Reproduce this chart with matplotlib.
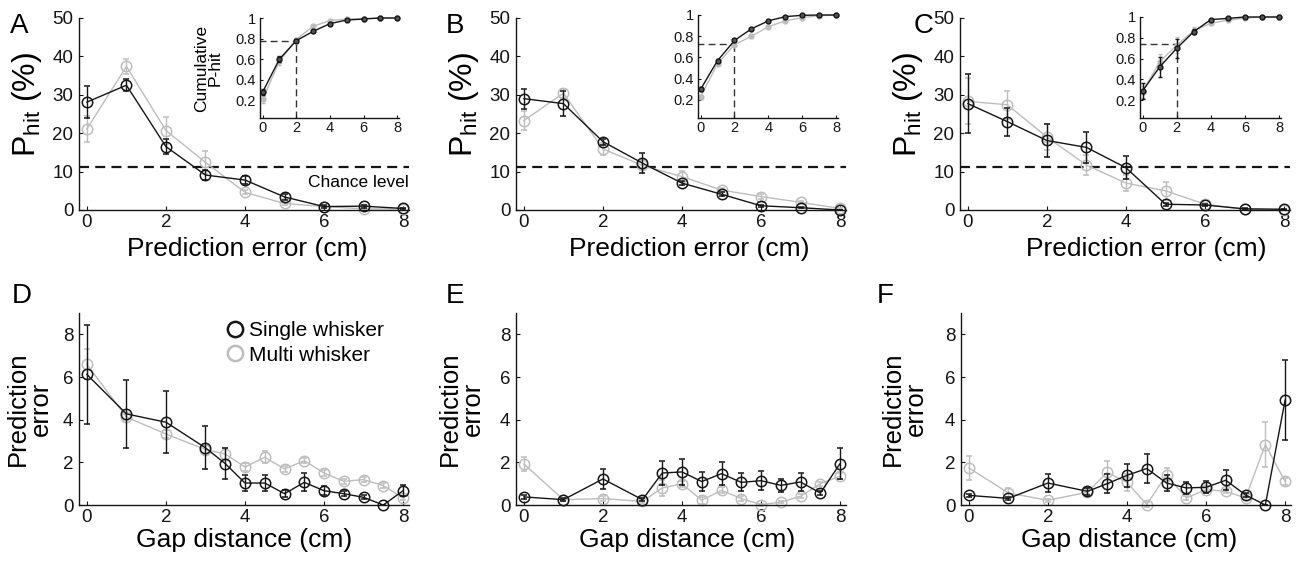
import matplotlib
matplotlib.use("Agg")
import matplotlib.pyplot as plt
from matplotlib.lines import Line2D
from matplotlib.ticker import FuncFormatter

plt.rcParams['font.family'] = ['Liberation Sans', 'DejaVu Sans']
plt.rcParams['mathtext.fontset'] = 'custom'
plt.rcParams['mathtext.rm'] = 'Liberation Sans'
plt.rcParams['mathtext.it'] = 'Liberation Sans:italic'

BLACK = '#151515'
GRAY = '#bdbdbd'

# --- top row: P-hit vs prediction error ---
pred_err = [0, 1, 2, 3, 4, 5, 6, 7, 8]

a_single = [28.1, 32.5, 16.5, 9.1, 7.8, 3.4, 0.9, 1.0, 0.4]
a_single_err = [4.1, 1.6, 1.9, 1.4, 1.1, 0.7, 0.4, 0.4, 0.2]
a_multi = [21.1, 37.4, 20.7, 12.4, 4.6, 1.7, 0.9, 0.3, 0.3]
a_multi_err = [3.3, 2.0, 3.6, 2.9, 0.5, 0.3, 0.2, 0.2, 0.1]

b_single = [29.0, 27.7, 17.8, 12.2, 7.0, 4.1, 1.1, 0.6, 0.0]
b_single_err = [2.6, 3.3, 0.8, 2.6, 0.5, 0.5, 0.3, 0.2, 0.1]
b_multi = [23.3, 30.4, 15.9, 11.6, 8.7, 5.2, 3.5, 2.0, 0.4]
b_multi_err = [2.5, 1.2, 1.5, 1.3, 1.5, 0.6, 0.7, 0.4, 0.2]

c_single = [27.7, 23.0, 18.1, 16.3, 11.0, 1.5, 1.3, 0.3, 0.2]
c_single_err = [7.7, 3.6, 4.2, 4.1, 3.0, 0.4, 0.3, 0.1, 0.1]
c_multi = [28.3, 27.4, 19.0, 11.7, 7.0, 5.0, 1.5, 0.2, 0.0]
c_multi_err = [6.0, 3.6, 3.5, 2.6, 2.1, 2.3, 0.4, 0.1, 0.1]

chance_level = 11.1

# --- insets: cumulative P-hit ---
cum_a_single = [0.28, 0.60, 0.78, 0.87, 0.945, 0.98, 0.99, 1.0, 1.0]
cum_a_single_err = [0.03, 0.03, 0.015, 0.01, 0.01, 0.005, 0.005, 0.0, 0.0]
cum_a_multi = [0.21, 0.58, 0.79, 0.92, 0.975, 0.99, 0.995, 1.0, 1.0]
cum_a_multi_err = [0.03, 0.04, 0.02, 0.01, 0.005, 0.005, 0.0, 0.0, 0.0]
cut_a = 0.78

cum_b_single = [0.30, 0.57, 0.76, 0.87, 0.945, 0.985, 0.997, 1.0, 1.0]
cum_b_single_err = [0.02, 0.015, 0.015, 0.01, 0.005, 0.005, 0.0, 0.0, 0.0]
cum_b_multi = [0.23, 0.54, 0.72, 0.80, 0.89, 0.945, 0.975, 0.994, 1.0]
cum_b_multi_err = [0.02, 0.015, 0.015, 0.01, 0.01, 0.005, 0.005, 0.0, 0.0]
cut_b = 0.73

cum_c_single = [0.29, 0.52, 0.70, 0.86, 0.975, 0.987, 1.0, 1.0, 1.0]
cum_c_single_err = [0.075, 0.10, 0.09, 0.025, 0.01, 0.01, 0.005, 0.0, 0.0]
cum_c_multi = [0.28, 0.57, 0.73, 0.87, 0.94, 0.97, 0.99, 1.0, 1.0]
cum_c_multi_err = [0.06, 0.07, 0.08, 0.03, 0.02, 0.01, 0.005, 0.0, 0.0]
cut_c = 0.74

# --- bottom row: prediction error vs gap distance ---
gap = [0, 1, 2, 3, 3.5, 4, 4.5, 5, 5.5, 6, 6.5, 7, 7.5, 8]

d_single = [6.12, 4.27, 3.88, 2.68, 1.94, 1.03, 1.03, 0.53, 1.06, 0.67, 0.53, 0.36, 0.0, 0.67]
d_single_err = [2.3, 1.6, 1.45, 1.0, 0.72, 0.37, 0.38, 0.15, 0.42, 0.2, 0.12, 0.1, 0.0, 0.26]
d_multi = [6.59, 4.12, 3.33, 2.6, 2.39, 1.78, 2.24, 1.69, 2.08, 1.5, 1.11, 1.19, 0.91, 0.33]
d_multi_err = [0.7, 0.15, 0.2, 0.2, 0.28, 0.2, 0.28, 0.15, 0.12, 0.15, 0.12, 0.1, 0.1, 0.1]

e_single = [0.38, 0.25, 1.22, 0.25, 1.5, 1.55, 1.1, 1.47, 1.06, 1.14, 0.92, 1.08, 0.56, 1.94]
e_single_err = [0.1, 0.08, 0.47, 0.08, 0.55, 0.6, 0.45, 0.55, 0.42, 0.46, 0.3, 0.43, 0.1, 0.74]
e_multi = [1.92, 0.25, 0.3, 0.17, 0.8, 0.99, 0.22, 0.69, 0.3, 0.02, 0.13, 0.41, 1.0, 1.35]
e_multi_err = [0.33, 0.08, 0.1, 0.08, 0.37, 0.15, 0.15, 0.15, 0.1, 0.05, 0.05, 0.1, 0.1, 0.15]

f_single = [0.45, 0.31, 1.03, 0.64, 1.0, 1.39, 1.71, 1.03, 0.8, 0.83, 1.16, 0.47, 0.0, 4.91]
f_single_err = [0.08, 0.08, 0.42, 0.15, 0.43, 0.53, 0.66, 0.38, 0.3, 0.28, 0.47, 0.08, 0.0, 1.88]
f_multi = [1.74, 0.56, 0.22, 0.6, 1.53, 1.06, 0.02, 1.42, 0.33, 0.72, 0.64, 0.33, 2.83, 1.11]
f_multi_err = [0.58, 0.25, 0.08, 0.1, 0.53, 0.4, 0.1, 0.3, 0.1, 0.1, 0.1, 0.1, 1.05, 0.15]

W, H = 1296, 563
fig = plt.figure(figsize=(W / 100, H / 100), dpi=100)


def px_axes(left, top, right, bottom):
    # pixel box -> figure axes
    return fig.add_axes([left / W, 1 - bottom / H, (right - left) / W, (bottom - top) / H])


def style_axes(ax, size=13.5, pad=3, ypad=4):
    for s in ['top', 'right']:
        ax.spines[s].set_visible(False)
    for s in ['left', 'bottom']:
        ax.spines[s].set_linewidth(1.0)
        ax.spines[s].set_color(BLACK)
    ax.tick_params(direction='in', length=3, width=0.8, labelsize=size, colors=BLACK)
    ax.tick_params(axis='x', pad=pad)
    ax.tick_params(axis='y', pad=ypad)


def draw_pair(ax, x, single, single_err, multi, multi_err, ms=7.5, lw=1.0, cap=2.5):
    ax.errorbar(x, multi, yerr=multi_err, color=GRAY, marker='o', mfc='none', ms=ms,
                mew=1.1, lw=lw, elinewidth=lw, capsize=cap, clip_on=False, zorder=2)
    ax.errorbar(x, single, yerr=single_err, color=BLACK, marker='o', mfc='none', ms=ms,
                mew=1.1, lw=lw, elinewidth=lw, capsize=cap, clip_on=False, zorder=3)


top_sets = [
    ('A', 79, 10, a_single, a_single_err, a_multi, a_multi_err, 0.51,
     (260, 18, 399), cum_a_single, cum_a_single_err, cum_a_multi, cum_a_multi_err, cut_a),
    ('B', 516, 446, b_single, b_single_err, b_multi, b_multi_err, 0.525,
     (698, 15, 838), cum_b_single, cum_b_single_err, cum_b_multi, cum_b_multi_err, cut_b),
    ('C', 960, 914, c_single, c_single_err, c_multi, c_multi_err, 0.565,
     (1140, 17, 1281), cum_c_single, cum_c_single_err, cum_c_multi, cum_c_multi_err, cut_c),
]

for i, (letter, left, lx, s, se, m, me, xl, ins, cs, cse, cm, cme, cut) in enumerate(top_sets):
    ax = px_axes(left, 18, left + 330, 210)
    style_axes(ax)
    ax.axhline(chance_level, color=BLACK, lw=1.6, linestyle=(0, (4.5, 2.8)), zorder=1)
    draw_pair(ax, pred_err, s, se, m, me)
    ax.set_xlim(-0.2, 8.15)
    ax.set_ylim(0, 50)
    ax.set_xticks([0, 2, 4, 6, 8])
    ax.set_yticks([0, 10, 20, 30, 40, 50])
    ax.set_xlabel('Prediction error (cm)', fontsize=19)
    ax.xaxis.set_label_coords(xl, -0.14)
    ax.set_ylabel('P$_{\\mathrm{hit}}$ (%)', fontsize=23)
    ax.yaxis.set_label_coords(-0.105, 0.55)
    fig.text(lx / W, 1 - 26 / H, letter, fontsize=20, va='center', ha='left')
    if i == 0:
        ax.text(8.15, 9.2, 'Chance level', fontsize=12.5, ha='right', va='top')

    # inset with cumulative P-hit
    il, it, ir = ins
    iax = px_axes(il, it, ir, 118)
    style_axes(iax, size=10.5, pad=2, ypad=3)
    iax.tick_params(length=2)
    iax.errorbar(pred_err, cm, yerr=cme, color=GRAY, marker='o', mfc=GRAY, ms=3.5,
                 mew=1, lw=1, elinewidth=1, capsize=1.2, clip_on=False, zorder=2)
    iax.errorbar(pred_err, cs, yerr=cse, color=BLACK, marker='o', mfc='#555555', ms=3.5,
                 mew=1, lw=1, elinewidth=1, capsize=1.2, clip_on=False, zorder=3)
    iax.plot([-0.2, 2], [cut, cut], color='#333333', lw=1, linestyle=(0, (5, 3)), zorder=1)
    iax.plot([2, 2], [0.03, cut], color='#333333', lw=1, linestyle=(0, (5, 3)), zorder=1)
    iax.set_xlim(-0.15, 8.1)
    iax.set_ylim(0.03, 1.0)
    iax.set_xticks([0, 2, 4, 6, 8])
    iax.set_yticks([0.2, 0.4, 0.6, 0.8, 1.0])
    iax.yaxis.set_major_formatter(FuncFormatter(lambda v, p: '1' if v == 1 else f'{v:.1f}'))
    if i == 0:
        iax.set_ylabel('Cumulative\nP-hit', fontsize=12.5, linespacing=0.85)
        iax.yaxis.set_label_coords(-0.27, 0.5)

bottom_sets = [
    ('D', 79, 12, d_single, d_single_err, d_multi, d_multi_err, 0.5, -0.08),
    ('E', 516, 446, e_single, e_single_err, e_multi, e_multi_err, 0.52, -0.094),
    ('F', 961, 877, f_single, f_single_err, f_multi, f_multi_err, 0.51, -0.10),
]

for i, (letter, left, lx, s, se, m, me, xl, yl) in enumerate(bottom_sets):
    ax = px_axes(left, 313, left + 330, 505)
    style_axes(ax)
    draw_pair(ax, gap, s, se, m, me)
    ax.set_xlim(-0.2, 8.15)
    ax.set_ylim(0, 9.0)
    ax.set_xticks([0, 2, 4, 6, 8])
    ax.set_yticks([0, 2, 4, 6, 8])
    ax.set_xlabel('Gap distance (cm)', fontsize=19)
    ax.xaxis.set_label_coords(xl, -0.12)
    ax.set_ylabel('Prediction\nerror', fontsize=18.5, linespacing=0.95)
    ax.yaxis.set_label_coords(yl, 0.5)
    fig.text(lx / W, 1 - 296 / H, letter, fontsize=20, va='center', ha='left')
    if i == 0:
        handles = [
            Line2D([], [], color=BLACK, marker='o', mfc='none', ms=11, mew=1.8, lw=0),
            Line2D([], [], color=GRAY, marker='o', mfc='none', ms=11, mew=1.8, lw=0),
        ]
        ax.legend(handles, ['Single whisker', 'Multi whisker'], loc='upper left',
                  bbox_to_anchor=(0.42, 1.0), frameon=False, fontsize=15,
                  handletextpad=0.2, handlelength=0.9, labelspacing=0.25,
                  borderaxespad=0.0)

fig.savefig('out.png', dpi=100)
